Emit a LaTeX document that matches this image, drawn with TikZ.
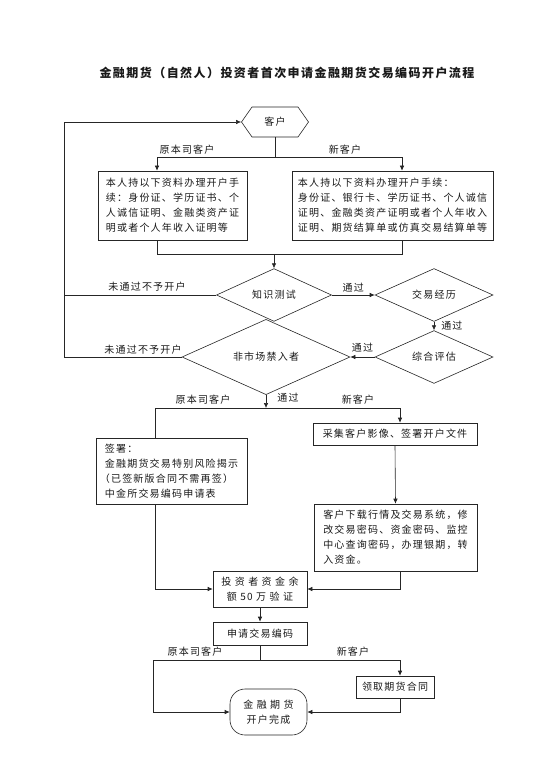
\documentclass[tikz,border=0pt]{standalone}
\usepackage{fontspec}
\setmainfont{Noto Sans CJK SC}[LetterSpace=12]
\usetikzlibrary{arrows.meta, shapes.geometric, shapes.symbols}
\colorlet{colLinea}{black!85}
\colorlet{colTexto}{black!90}
\tikzset{
  cajaBase/.style={
    draw=colLinea, line width=0.6pt, inner sep=0pt,
    align=left, font=\fontsize{10}{15}\selectfont, text=colTexto
  },
  cajaTexto/.style={cajaBase, rectangle},
  cajaRombo/.style={cajaBase, diamond, align=center},
  cajaInicio/.style={cajaBase, signal, signal to=east and west,
    signal pointer angle=110, align=center},
  cajaFin/.style={cajaBase, rectangle, rounded corners=15pt, align=center},
  flecha/.style={-{Latex[length=5pt,width=4.5pt]}, line width=0.6pt, colLinea},
  linea/.style={line width=0.6pt, colLinea},
  etiquetaRama/.style={font=\fontsize{10}{12}\selectfont, text=colTexto, inner sep=1pt},
}

\begin{document}
\begin{tikzpicture}[x=1pt, y=-1pt]
  \useasboundingbox (0,0) rectangle (554,783);

  \node[font=\fontsize{12}{14}\selectfont\bfseries, text=colTexto] (titulo) at (287,73)
    {金融期货（自然人）投资者首次申请金融期货交易编码开户流程};

  % apertura
  \node[cajaInicio, minimum width=67, minimum height=30] (kehu) at (275,122) {客户};
  \coordinate (fenL) at (157,157);
  \coordinate (fenR) at (402,157);
  \node[cajaTexto, minimum width=149, minimum height=69] (ziliaoYuan) at (172.5,205.5)
    {本人持以下资料办理开户手\\续：身份证、学历证书、个\\人诚信证明、金融类资产证\\明或者个人年收入证明等};
  \node[cajaTexto, minimum width=201, minimum height=69] (ziliaoXin) at (392.5,205.5)
    {本人持以下资料办理开户手续：\\身份证、银行卡、学历证书、个人诚信\\证明、金融类资产证明或者个人年收入\\证明、期货结算单或仿真交易结算单等};
  \draw[flecha] (kehu.south) |- (fenL) -- (fenL |- ziliaoYuan.north);
  \draw[flecha] (kehu.south) |- (fenR) -- (fenR |- ziliaoXin.north);
  \node[etiquetaRama] (etqYuan1) at (187,150) {原本司客户};
  \node[etiquetaRama] (etqXin1) at (345,150) {新客户};

  % pruebas
  \coordinate (heL) at (157,254);
  \coordinate (heR) at (402,254);
  \node[cajaRombo, minimum width=115, minimum height=36] (zhishi) at (274,295) {知识测试};
  \node[cajaRombo, minimum width=118, minimum height=37] (jingli) at (434,295) {交易经历};
  \node[cajaRombo, minimum width=118, minimum height=45] (pinggu) at (434,357) {综合评估};
  \node[cajaRombo, minimum width=168, minimum height=43] (jinru) at (266,357) {非市场禁入者};
  \coordinate (huiTop) at (64,122);
  \draw[linea] (heL |- ziliaoYuan.south) -- (heL) -- (heR) -- (heR |- ziliaoXin.south);
  \draw[flecha] (zhishi.north |- heL) -- (zhishi.north);
  \draw[flecha] (zhishi.east) -- (jingli.west) node[etiquetaRama, midway, above=2pt] (etqTg1) {通过};
  \draw[flecha] (jingli.south) -- (pinggu.north) node[etiquetaRama, midway, right=6pt] (etqTg2) {通过};
  \draw[flecha] (pinggu.west) -- (jinru.east) node[etiquetaRama, midway, above=4pt] (etqTg3) {通过};
  \draw[linea] (zhishi.west) -- (zhishi.west -| huiTop);
  \draw[flecha] (jinru.west) -| (huiTop) -- (kehu.west);
  \node[etiquetaRama] (etqNo1) at (147,287) {未通过不予开户};
  \node[etiquetaRama] (etqNo2) at (143,350) {未通过不予开户};

  % firma y documentos
  \coordinate (fen2L) at (155,408);
  \coordinate (fen2R) at (400,408);
  \node[cajaTexto, minimum width=151, minimum height=66] (qianshu) at (171.5,471)
    {签署：\\金融期货交易特别风险揭示\\\kern-5pt（已签新版合同不需再签）\\中金所交易编码申请表};
  \node[cajaTexto, minimum width=164, minimum height=22, align=center] (caiji) at (395,434)
    {采集客户影像、签署开户文件};
  \node[cajaTexto, minimum width=163, minimum height=67] (xiazai) at (395.5,537.5)
    {客户下载行情及交易系统，修\\改交易密码、资金密码、监控\\中心查询密码，办理银期，转\\入资金。};
  \node[cajaTexto, minimum width=94, minimum height=36, align=center] (yanzheng) at (260,589)
    {投 资 者 资 金 余\\额 50 万 验 证};
  \draw[flecha] (jinru.south) -- (jinru.south |- fen2L);
  \draw[linea] (fen2L |- qianshu.north) -- (fen2L) -- (fen2R);
  \draw[flecha] (fen2R) -- (fen2R |- caiji.north);
  \draw[flecha] (caiji.south) -- (xiazai.north);
  \draw[flecha] (fen2L |- qianshu.south) |- (yanzheng.west);
  \draw[flecha] (fen2R |- xiazai.south) |- (yanzheng.east);
  \node[etiquetaRama] (etqTg4) at (288,398) {通过};
  \node[etiquetaRama] (etqYuan2) at (203,400) {原本司客户};
  \node[etiquetaRama] (etqXin2) at (358,400) {新客户};

  % codigo y cierre
  \coordinate (fen3L) at (153,660);
  \coordinate (fen3R) at (400,660);
  \node[cajaTexto, minimum width=94, minimum height=23, align=center] (bianma) at (260,633.5) {申请交易编码};
  \node[cajaTexto, minimum width=78, minimum height=22, align=center] (lingqu) at (395,687) {领取期货合同};
  \node[cajaFin, minimum width=77, minimum height=46] (wancheng) at (268.5,712) {金 融 期 货\\开户完成};
  \draw[flecha] (yanzheng.south) -- (bianma.north);
  \draw[flecha] (bianma.south) |- (fen3R) -- (fen3R |- lingqu.north);
  \draw[flecha] (bianma.south |- fen3L) -- (fen3L) |- (wancheng.west);
  \draw[flecha] (fen3R |- lingqu.south) |- (wancheng.east);
  \node[etiquetaRama] (etqYuan3) at (195,652) {原本司客户};
  \node[etiquetaRama] (etqXin3) at (353,652) {新客户};
\end{tikzpicture}
\end{document}
